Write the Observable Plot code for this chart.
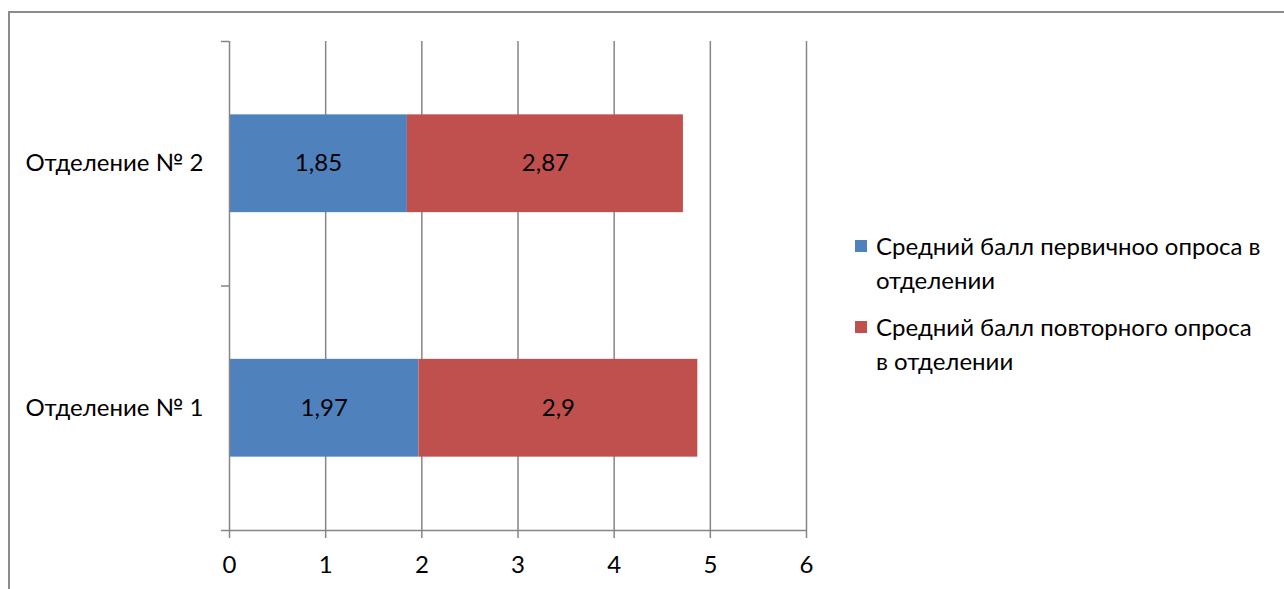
<!DOCTYPE html>
<html>
<head>
<meta charset="utf-8">
<script src="https://cdn.jsdelivr.net/npm/d3@7"></script>
<script src="https://cdn.jsdelivr.net/npm/@observablehq/plot@0.6"></script>
<style>
  body { margin: 0; background: #fff; font-family: Lato, "Open Sans", sans-serif; }
  #wrap { position: relative; width: 1284px; height: 589px; overflow: hidden; }
  #border { position: absolute; left: 8px; top: 11px; width: 1300px; height: 620px;
            border: 2px solid #8c8c8c; box-sizing: border-box; }
  #chart { position: absolute; left: 0; top: 0; }
  #legend { position: absolute; left: 855px; top: 229px; font-size: 24px; color: #000; }
  .item { display: flex; align-items: flex-start; line-height: 34px; white-space: nowrap; margin-bottom: 13px; }
  .swatch { width: 12px; height: 12px; margin: 11px 9px 0 0; flex: none; }
</style>
</head>
<body>
<div id="wrap">
  <div id="border"></div>
  <div id="chart"></div>
  <div id="legend"></div>
</div>
<script>
// Departments, bottom to top
const departments = ["Отделение № 1", "Отделение № 2"];
// Survey series
const series = [
  "Средний балл первичноо опроса в отделении",
  "Средний балл повторного опроса в отделении"
];
// Legend lines (as wrapped in the legend box)
const legendLines = [
  ["Средний балл первичноо опроса в", "отделении"],
  ["Средний балл повторного опроса", "в отделении"]
];
const primaryScores = [1.97, 1.85];
const repeatScores = [2.9, 2.87];
const xTicks = [0, 1, 2, 3, 4, 5, 6];
const colors = ["#4F81BD", "#C0504D"];

const fmt = v => String(v).replace(".", ",");
const barHalf = 0.2;
const gray = "#868686";

// Stack the two scores for each department
const rows = departments.flatMap((dep, i) => {
  const vals = [primaryScores[i], repeatScores[i]];
  let acc = 0;
  return vals.map((v, j) => {
    const r = {dep, pos: i + 0.5, series: series[j], value: v, x1: acc, x2: acc + v};
    acc += v;
    return r;
  });
});

const chart = Plot.plot({
  width: 1284,
  height: 589,
  marginLeft: 229,
  marginRight: 478,
  marginTop: 41,
  marginBottom: 59,
  style: {fontFamily: "Lato, 'Open Sans', sans-serif", fontSize: "24px", color: "#000", background: "transparent"},
  x: {domain: [0, 6], label: null},
  y: {domain: [0, 2], label: null},
  color: {domain: series, range: colors},
  marks: [
    Plot.ruleX(xTicks.slice(1), {stroke: gray, strokeWidth: 1.5}),
    Plot.rectX(rows, {x1: "x1", x2: "x2", y1: d => d.pos - barHalf, y2: d => d.pos + barHalf, fill: "series"}),
    Plot.text(rows, {x: d => (d.x1 + d.x2) / 2, y: "pos", text: d => fmt(d.value), fill: "#000"}),
    Plot.ruleX([0], {stroke: gray, strokeWidth: 1.5}),
    Plot.ruleY([0], {stroke: gray, strokeWidth: 1.5}),
    Plot.axisX({ticks: xTicks, tickSize: 8, tickPadding: 17, label: null, stroke: gray, strokeWidth: 1.5, fill: "#000", tickFormat: d => String(d)}),
    Plot.axisY({ticks: [0, 1, 2], tickSize: 8, label: null, stroke: gray, strokeWidth: 1.5, tickFormat: () => ""}),
    Plot.axisY({ticks: [0.5, 1.5], tickSize: 0, tickPadding: 26, label: null, fill: "#000", tickFormat: v => departments[Math.floor(v)]})
  ]
});
document.getElementById("chart").appendChild(chart);

// Legend
const legend = document.getElementById("legend");
series.forEach((s, i) => {
  const item = document.createElement("div");
  item.className = "item";
  const sw = document.createElement("div");
  sw.className = "swatch";
  sw.style.background = colors[i];
  const txt = document.createElement("div");
  txt.innerHTML = legendLines[i].join("<br>");
  item.appendChild(sw);
  item.appendChild(txt);
  legend.appendChild(item);
});
</script>
</body>
</html>
